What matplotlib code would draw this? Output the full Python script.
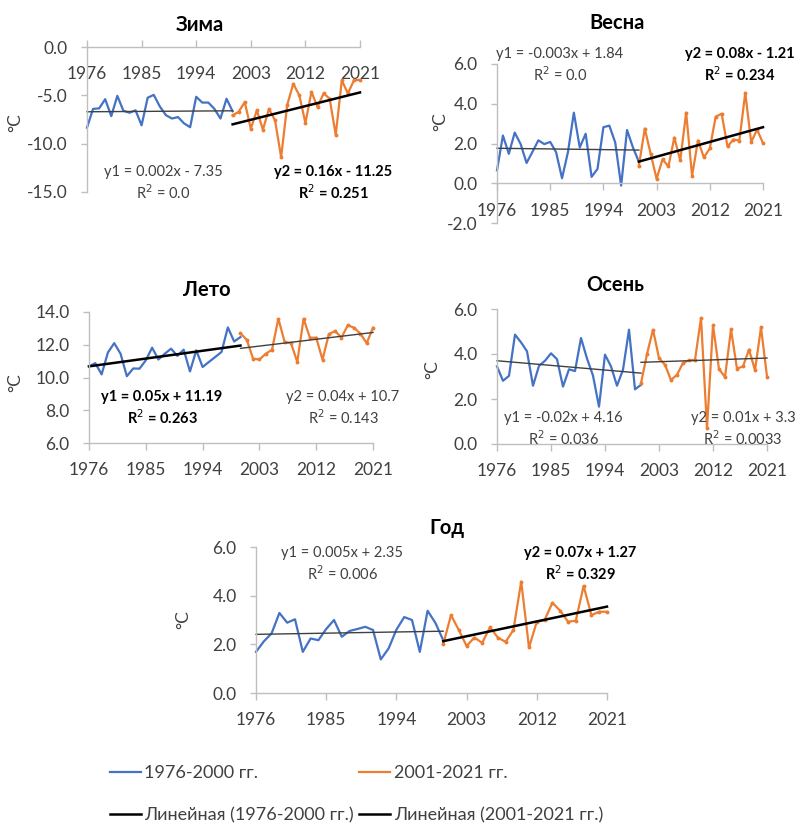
import matplotlib
matplotlib.use("Agg")
import matplotlib.pyplot as plt
from matplotlib.lines import Line2D

plt.rcParams['font.family'] = ['Lato', 'DejaVu Sans']

W, H = 800, 834

# ---------------- data ----------------
years1 = list(range(1976, 2001))   # 1976-2000
years2 = list(range(2000, 2022))   # 2001-2021 series (drawn from the 2000 slot)
tick_years = [1976, 1985, 1994, 2003, 2012, 2021]

winter1 = [-8.34, -6.4, -6.35, -5.4, -7.15, -5.05, -6.6, -6.8, -6.55, -8.1, -5.25, -4.95, -6.15,
           -7.05, -7.4, -7.25, -7.9, -8.3, -5.15, -5.75, -5.75, -6.4, -7.4, -5.35, -6.65]
winter2 = [-7.07, -6.7, -5.7, -8.45, -6.55, -8.55, -6.4, -7.6, -11.4, -6.0, -3.8, -5.0, -7.86,
           -4.65, -6.2, -4.8, -5.35, -9.1, -3.45, -4.8, -3.45, -3.4]
winter_t1 = [-6.7, -6.6]
winter_t2 = [-8.0, -4.7]

spring1 = [0.65, 2.4, 1.48, 2.55, 1.97, 1.02, 1.58, 2.16, 1.97, 2.08, 1.56, 0.25, 1.56, 3.55,
           1.8, 2.49, 0.32, 0.72, 2.82, 2.9, 2.05, -0.12, 2.68, 1.8, 1.08]
spring2 = [0.87, 2.75, 1.48, 0.22, 1.2, 0.85, 2.3, 1.15, 3.55, 0.38, 2.15, 1.3, 1.75, 3.35,
           3.5, 1.85, 2.2, 2.15, 4.55, 2.07, 2.7, 2.02]
spring_t1 = [1.76, 1.67]
spring_t2 = [1.09, 2.82]

summer1 = [10.68, 10.88, 10.19, 11.53, 12.1, 11.45, 10.08, 10.55, 10.54, 11.05, 11.82, 11.1,
           11.45, 11.76, 11.32, 11.7, 10.37, 11.66, 10.64, 10.95, 11.25, 11.56, 13.06, 12.2, 12.47]
summer2 = [12.7, 12.3, 11.15, 11.1, 11.45, 11.7, 13.59, 12.17, 12.1, 10.95, 13.59, 12.43, 12.43,
           11.09, 12.64, 12.84, 12.43, 13.19, 13.04, 12.68, 12.1, 13.04]
summer_t1 = [10.68, 11.95]
summer_t2 = [11.78, 12.75]

autumn1 = [3.45, 2.81, 3.03, 4.86, 4.52, 4.12, 2.59, 3.47, 3.7, 4.03, 3.77, 2.55, 3.32, 3.24,
           4.71, 3.8, 3.04, 1.66, 3.97, 3.45, 2.59, 3.3, 5.08, 2.43, 2.63]
autumn2 = [2.7, 4.0, 5.08, 3.82, 3.52, 2.84, 3.08, 3.6, 3.72, 3.74, 5.6, 0.72, 5.28, 3.33, 2.98,
           5.09, 3.35, 3.45, 4.2, 3.28, 5.18, 3.0]
autumn_t1 = [3.7, 3.15]
autumn_t2 = [3.63, 3.82]

annual1 = [1.69, 2.12, 2.45, 3.29, 2.89, 3.03, 1.69, 2.24, 2.17, 2.63, 3.0, 2.31, 2.55, 2.63,
           2.72, 2.59, 1.38, 1.83, 2.6, 3.12, 3.0, 1.69, 3.38, 2.88, 2.17]
annual2 = [2.0, 3.2, 2.59, 1.93, 2.28, 2.06, 2.7, 2.28, 2.1, 2.59, 4.58, 1.87, 2.93, 3.0, 3.71,
           3.38, 2.93, 2.97, 4.4, 3.2, 3.34, 3.34]
annual_t1 = [2.41, 2.54]
annual_t2 = [2.13, 3.55]

titles = ["Зима", "Весна", "Лето", "Осень", "Год"]
eq1 = ["y1 = 0.002x - 7.35", "y1 = -0.003x + 1.84", "y1 = 0.05x + 11.19",
       "y1 = -0.02x + 4.16", "y1 = 0.005x + 2.35"]
r1 = ["R$^2$ = 0.0", "R$^2$ = 0.0", "R$^2$ = 0.263", "R$^2$ = 0.036", "R$^2$ = 0.006"]
eq2 = ["y2 = 0.16x - 11.25", "y2 = 0.08x - 1.21", "y2 = 0.04x + 10.7",
       "y2 = 0.01x + 3.3", "y2 = 0.07x + 1.27"]
r2 = ["R$^2$ = 0.251", "R$^2$ = 0.234", "R$^2$ = 0.143", "R$^2$ = 0.0033", "R$^2$ = 0.329"]
bold1 = [False, False, True, False, False]
bold2 = [True, True, False, False, True]

legend_labels = ["1976-2000 гг.", "Линейная (1976-2000 гг.)",
                 "2001-2021 гг.", "Линейная (2001-2021 гг.)"]

BLUE = "#4472C4"
ORANGE = "#ED7D31"
AXC = "#BFBFBF"
TXT = "#404040"

fig = plt.figure(figsize=(W / 100, H / 100), dpi=100)
fig.patch.set_facecolor("white")


def fx(x):
    return x / W


def fy(y):
    return 1 - y / H


panels = [
    dict(box=(87, 360, 47, 192), ylim=(-15, 0), step=5, cross=0, tickdir="in",
         s1=winter1, s2=winter2, t1=winter_t1, t2=winter_t2,
         title_xy=(200, 25), e1=(163, 172), e2=(333, 172), ylab=(15, 123)),
    dict(box=(497, 763, 64, 223), ylim=(-2, 6), step=2, cross=0, tickdir="out",
         s1=spring1, s2=spring2, t1=spring_t1, t2=spring_t2,
         title_xy=(617, 23), e1=(560, 54), e2=(740, 54), ylab=(440, 122)),
    dict(box=(89, 373, 312, 443), ylim=(6, 14), step=2, cross=6, tickdir="out",
         s1=summer1, s2=summer2, t1=summer_t1, t2=summer_t2,
         title_xy=(207, 290), e1=(162, 397), e2=(343, 397), ylab=(15, 383)),
    dict(box=(497, 767, 309, 444), ylim=(0, 6), step=2, cross=0, tickdir="out",
         s1=autumn1, s2=autumn2, t1=autumn_t1, t2=autumn_t2,
         title_xy=(615, 285), e1=(563, 418), e2=(743, 418), ylab=(432, 370)),
    dict(box=(256, 607, 547, 693), ylim=(0, 6), step=2, cross=0, tickdir="out",
         s1=annual1, s2=annual2, t1=annual_t1, t2=annual_t2,
         title_xy=(447, 528), e1=(342, 553), e2=(580, 553), ylab=(183, 620)),
]

handles = None
for i, p in enumerate(panels):
    l, r, t, b = p["box"]
    ax = fig.add_axes([fx(l), fy(b), (r - l) / W, (b - t) / H])
    ax.set_facecolor("none")
    ax.set_xlim(1976, 2021)
    ax.set_ylim(*p["ylim"])
    yt = []
    v = p["ylim"][0]
    while v <= p["ylim"][1] + 1e-9:
        yt.append(v)
        v += p["step"]
    ax.set_yticks(yt)
    ax.set_yticklabels([f"{v:.1f}" for v in yt])
    ax.set_xticks(tick_years)
    ax.set_xticklabels([str(v) for v in tick_years])
    for s in ["top", "right"]:
        ax.spines[s].set_visible(False)
    ax.spines["left"].set_color(AXC)
    ax.spines["bottom"].set_color(AXC)
    ax.spines["left"].set_linewidth(1.0)
    ax.spines["bottom"].set_linewidth(1.0)
    ax.spines["bottom"].set_position(("data", p["cross"]))
    ax.tick_params(axis="y", length=4, width=1, color=AXC, labelsize=12.5,
                   labelcolor=TXT, pad=10)
    xpad = 14 if p["tickdir"] == "in" else 9
    ax.tick_params(axis="x", direction=p["tickdir"], length=5, width=1, color=AXC,
                   labelsize=12.5, labelcolor=TXT, pad=xpad)

    h1, = ax.plot(years1, p["s1"], color=BLUE, lw=1.6, solid_joinstyle="round",
                  clip_on=False)
    h2, = ax.plot(years2, p["s2"], color=ORANGE, lw=1.6, marker="o", markersize=1.8,
                  solid_joinstyle="round", clip_on=False)
    c1 = "black" if bold1[i] else "#404040"
    c2 = "black" if bold2[i] else "#404040"
    lw1 = 1.8 if bold1[i] else 1.0
    lw2 = 1.8 if bold2[i] else 1.0
    ax.plot([years1[0], years1[-1]], p["t1"], color=c1, lw=lw1, clip_on=False)
    ax.plot([years2[0], years2[-1]], p["t2"], color=c2, lw=lw2, clip_on=False)
    if i == 4:
        handles = [Line2D([], [], color=BLUE, lw=1.6),
                   Line2D([], [], color="black", lw=1.8),
                   Line2D([], [], color=ORANGE, lw=1.6),
                   Line2D([], [], color="black", lw=1.8)]

    fig.text(fx(p["title_xy"][0]), fy(p["title_xy"][1]), titles[i], ha="center",
             va="center", fontsize=14.5, fontweight="bold", color="#000000")
    fig.text(fx(p["ylab"][0]), fy(p["ylab"][1]), "°C", ha="center", va="center",
             rotation=90, fontsize=12.5, color=TXT)

    ex, ey = p["e1"]
    fig.text(fx(ex), fy(ey), eq1[i], ha="center", va="center", fontsize=10.5,
             fontweight="bold" if bold1[i] else "normal",
             color="black" if bold1[i] else TXT)
    fig.text(fx(ex), fy(ey + 21), r1[i], ha="center", va="center", fontsize=10.5,
             fontweight="bold" if bold1[i] else "normal",
             color="black" if bold1[i] else TXT)
    ex, ey = p["e2"]
    fig.text(fx(ex), fy(ey), eq2[i], ha="center", va="center", fontsize=10.5,
             fontweight="bold" if bold2[i] else "normal",
             color="black" if bold2[i] else TXT)
    fig.text(fx(ex), fy(ey + 21), r2[i], ha="center", va="center", fontsize=10.5,
             fontweight="bold" if bold2[i] else "normal",
             color="black" if bold2[i] else TXT)

leg = fig.legend(handles, legend_labels, ncol=2, loc="upper left",
                 bbox_to_anchor=(fx(110), fy(765)), frameon=False, fontsize=13,
                 handlelength=1.7, handletextpad=0.2, columnspacing=0.3,
                 labelspacing=1.45, borderaxespad=0, borderpad=0)
for txt in leg.get_texts():
    txt.set_color(TXT)

fig.savefig("out.png", dpi=100, facecolor="white")
